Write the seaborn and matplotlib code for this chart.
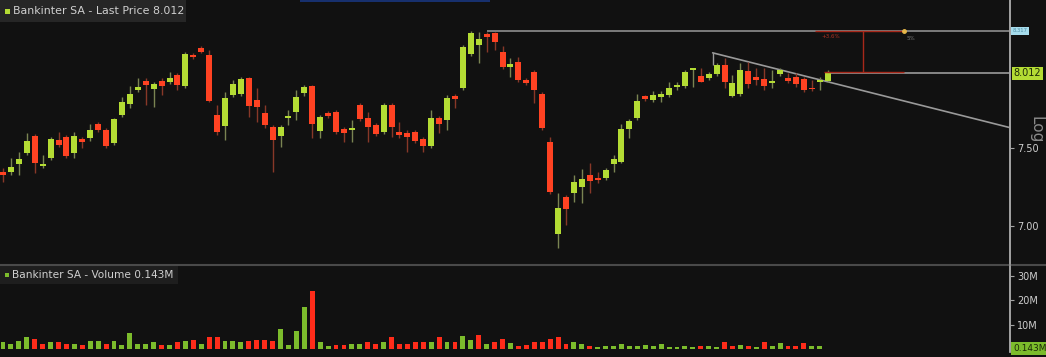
import numpy as np
import pandas as pd
import matplotlib
matplotlib.use("Agg")
import matplotlib.pyplot as plt
import matplotlib.transforms as mtransforms
from matplotlib.patches import Rectangle
from matplotlib.lines import Line2D
from matplotlib.ticker import FixedLocator, NullLocator
import seaborn as sns

# ---------------- data ----------------
opens = [7.343, 7.343, 7.395, 7.467, 7.580, 7.381, 7.434, 7.553, 7.573, 7.467,
         7.560, 7.567, 7.661, 7.620, 7.533, 7.722, 7.798, 7.895, 7.958, 7.902,
         7.958, 7.951, 8.000, 7.923, 8.143, 8.193, 8.143, 7.722, 7.647, 7.860,
         7.867, 7.979, 7.825, 7.736, 7.640, 7.580, 7.702, 7.742, 7.874, 7.923,
         7.614, 7.736, 7.742, 7.627, 7.620, 7.791, 7.702, 7.654, 7.607, 7.791,
         7.607, 7.600, 7.607, 7.560, 7.513, 7.702, 7.688, 7.853, 7.909, 8.150,
         8.215, 8.295, 8.302, 8.165, 8.057, 8.093, 7.965, 8.021, 7.867, 7.540,
         6.951, 7.182, 7.208, 7.246, 7.323, 7.304, 7.304, 7.395, 7.408, 7.627,
         7.702, 7.853, 7.825, 7.846, 7.860, 7.916, 7.923, 8.035, 7.993, 7.979,
         8.007, 8.071, 7.853, 7.867, 8.028, 7.986, 7.972, 7.944, 8.007, 7.979,
         7.986, 7.972, 7.902, 7.951, 7.958]
closes = [7.323, 7.375, 7.428, 7.546, 7.401, 7.395, 7.560, 7.520, 7.447, 7.580,
          7.540, 7.620, 7.620, 7.513, 7.695, 7.811, 7.867, 7.916, 7.930, 7.937,
          7.923, 7.979, 7.930, 8.150, 8.129, 8.165, 7.818, 7.607, 7.839, 7.937,
          7.972, 7.784, 7.777, 7.654, 7.553, 7.640, 7.715, 7.846, 7.916, 7.661,
          7.708, 7.715, 7.607, 7.600, 7.634, 7.695, 7.640, 7.594, 7.791, 7.640,
          7.587, 7.573, 7.546, 7.513, 7.702, 7.661, 7.839, 7.832, 8.201, 8.302,
          8.258, 8.273, 8.237, 8.057, 8.078, 7.965, 7.944, 7.895, 7.634, 7.214,
          7.113, 7.106, 7.278, 7.297, 7.284, 7.291, 7.356, 7.428, 7.627, 7.681,
          7.818, 7.832, 7.860, 7.867, 7.909, 7.923, 8.021, 8.042, 7.951, 8.007,
          8.071, 7.948, 7.944, 8.035, 7.937, 7.965, 7.923, 7.958, 8.035, 7.958,
          7.937, 7.895, 7.898, 7.965, 8.012]
highs = [7.369, 7.434, 7.474, 7.600, 7.594, 7.454, 7.573, 7.607, 7.587, 7.607,
         7.573, 7.661, 7.674, 7.634, 7.702, 7.846, 7.923, 7.979, 7.979, 7.951,
         7.979, 8.021, 8.014, 8.165, 8.158, 8.208, 8.179, 7.791, 7.881, 7.965,
         7.986, 7.986, 7.909, 7.791, 7.654, 7.654, 7.756, 7.895, 7.930, 7.930,
         7.722, 7.749, 7.756, 7.640, 7.688, 7.805, 7.742, 7.667, 7.805, 7.805,
         7.674, 7.620, 7.620, 7.573, 7.756, 7.715, 7.860, 7.867, 8.215, 8.317,
         8.310, 8.310, 8.310, 8.208, 8.121, 8.129, 7.979, 8.035, 7.881, 7.573,
         7.208, 7.195, 7.323, 7.362, 7.401, 7.343, 7.369, 7.454, 7.661, 7.695,
         7.867, 7.860, 7.888, 7.888, 7.951, 7.951, 8.035, 8.049, 8.049, 8.021,
         8.086, 8.121, 8.000, 8.086, 8.093, 8.049, 8.049, 8.035, 8.049, 8.014,
         8.014, 7.986, 7.965, 7.986, 8.035]
lows = [7.278, 7.323, 7.323, 7.454, 7.336, 7.369, 7.421, 7.507, 7.434, 7.434,
        7.500, 7.546, 7.607, 7.500, 7.520, 7.708, 7.770, 7.881, 7.791, 7.777,
        7.860, 7.937, 7.895, 7.909, 8.114, 8.158, 7.811, 7.587, 7.553, 7.846,
        7.853, 7.708, 7.674, 7.634, 7.343, 7.507, 7.654, 7.688, 7.853, 7.567,
        7.567, 7.702, 7.594, 7.540, 7.540, 7.681, 7.540, 7.580, 7.594, 7.573,
        7.567, 7.474, 7.533, 7.474, 7.500, 7.600, 7.620, 7.770, 7.895, 8.136,
        8.086, 8.165, 8.179, 8.042, 7.986, 7.951, 7.930, 7.805, 7.620, 7.201,
        6.866, 7.007, 7.151, 7.144, 7.208, 7.272, 7.291, 7.343, 7.401, 7.567,
        7.688, 7.818, 7.811, 7.811, 7.846, 7.895, 7.909, 7.916, 7.951, 7.965,
        7.993, 7.909, 7.846, 7.853, 7.909, 7.930, 7.895, 7.909, 7.993, 7.944,
        7.916, 7.881, 7.888, 7.895, 7.951]
volumes_m = [2.7, 2.0, 3.4, 4.8, 4.1, 2.0, 3.0, 2.7, 2.0, 2.0,
             1.6, 3.4, 3.4, 2.0, 3.4, 1.6, 6.5, 2.0, 2.0, 3.0,
             1.6, 1.6, 2.7, 3.4, 3.8, 2.0, 4.8, 4.8, 3.4, 3.4,
             2.7, 3.4, 3.8, 3.8, 3.4, 8.2, 1.6, 7.5, 17.0, 23.8,
             2.7, 1.4, 1.6, 1.5, 2.0, 2.0, 2.7, 2.0, 2.7, 4.8,
             2.0, 2.0, 2.7, 2.7, 2.7, 4.8, 3.0, 3.0, 5.2, 3.8,
             5.7, 2.0, 2.7, 4.1, 2.4, 1.4, 1.6, 2.7, 3.0, 4.1,
             4.8, 2.0, 3.0, 2.0, 1.4, 0.7, 1.4, 1.1, 2.0, 1.4,
             1.4, 1.6, 1.1, 1.9, 0.8, 0.8, 1.4, 0.8, 1.1, 1.4,
             0.7, 2.7, 1.1, 1.6, 1.4, 0.7, 3.0, 1.1, 2.4, 1.1,
             1.1, 2.4, 1.1, 1.1, 0.143]

price_ticks = [7.0, 7.5]
price_tick_labels = ["7.00", "7.50"]
vol_ticks = [10, 20, 30]
vol_tick_labels = ["10M", "20M", "30M"]
last_price = 8.012
last_volume_m = 0.143
title_price = "Bankinter SA - Last Price 8.012"
title_volume = "Bankinter SA - Volume 0.143M"
trend_x = [89.5, 127.0]
trend_y = [8.158, 7.636]
measure_label = "+3.6%"

# ---------------- style ----------------
BG = "#111111"
GREEN = "#b4dc34"
RED = "#ff4222"
VGREEN = "#7cbc2c"
VRED = "#ff2c1a"
AXIS = "#a4a4a4"
TXT = "#cfcfcf"

sns.set_theme(style="dark")
plt.rcParams["font.family"] = ["Liberation Sans Narrow", "DejaVu Sans"]

W, H = 1046, 357
fig = plt.figure(figsize=(W / 100, H / 100), dpi=100, facecolor=BG)

def fx(px):
    return px / W

def fy(py):
    return 1 - py / H

axp = fig.add_axes([0, fy(263), fx(1010), 263 / H])
axv = fig.add_axes([0, fy(352), fx(1010), 86 / H])

opens_a = np.array(opens)
closes_a = np.array(closes)
highs_a = np.array(highs)
lows_a = np.array(lows)
n = len(opens_a)
idx = np.arange(n)
up = closes_a >= opens_a
XMIN, XMAX = -0.38, 127.0

for ax in (axp, axv):
    ax.set_facecolor(BG)
    ax.set_xlim(XMIN, XMAX)
    ax.grid(False)
    for s in ("left", "top", "bottom"):
        ax.spines[s].set_visible(False)
    ax.spines["right"].set_color(AXIS)
    ax.spines["right"].set_linewidth(1.2)
    ax.set_xticks([])
    ax.set_xlabel("")
    ax.set_ylabel("")
    ax.yaxis.tick_right()
    ax.tick_params(axis="y", colors=AXIS, labelcolor=TXT, labelsize=7,
                   length=3, width=0.8, pad=2, direction="out", right=True, left=False)

# ---------------- candles ----------------
axp.set_yscale("log")
axp.set_ylim(6.775, 8.548)
wick_cols = np.where(up, "#7a8452", "#883828")
axp.vlines(idx, lows_a, highs_a, colors=wick_cols, linewidth=1.0, zorder=2)
body_lo = np.minimum(opens_a, closes_a)
body_h = np.maximum(np.abs(closes_a - opens_a), 0.012)
axp.bar(idx, body_h, bottom=body_lo, width=0.76,
        color=np.where(up, GREEN, RED), linewidth=0, zorder=3)
axp.yaxis.set_major_locator(FixedLocator(price_ticks))
axp.yaxis.set_minor_locator(NullLocator())
axp.set_yticklabels(price_tick_labels)

# reference lines / drawings
top_level = highs_a.max()
axp.hlines(top_level, 61, XMAX, colors="#8e8e8e", linewidth=1.2, zorder=1)
axp.hlines(last_price, n - 1, XMAX, colors="#9a9a9a", linewidth=1.2, zorder=1)
axp.plot(trend_x, trend_y, color="#9a9a9a", linewidth=1.2, zorder=1)
axp.vlines(trend_x[0], 8.07, trend_y[0], colors="#9a9a9a", linewidth=1.0, zorder=1)
mred = "#a8281a"
axp.hlines(top_level, 102.4, 113.6, colors=mred, linewidth=1.0, zorder=4)
axp.hlines(8.021, 103.6, 113.6, colors=mred, linewidth=1.0, zorder=4)
axp.vlines(108.5, 8.021, top_level, colors=mred, linewidth=1.0, zorder=4)
axp.plot([113.6], [top_level], "o", color="#e8b84a", markersize=2.5, zorder=5)
axp.text(103.2, 8.298, measure_label, color="#b03020", fontsize=4, va="top", zorder=5)
axp.text(114.0, 8.262, "5%", color="#777777", fontsize=4, va="center", zorder=5)

trans_p = mtransforms.blended_transform_factory(axp.transAxes, axp.transData)
axp.text(1.0035, last_price, f"{last_price:.3f}", transform=trans_p, ha="left",
         va="center", fontsize=7, color="#1c2a08", clip_on=False,
         bbox=dict(boxstyle="square,pad=0.18", fc="#b4dc34", ec="none"))
axp.text(1.0025, top_level, f"{top_level:.3f}", transform=trans_p, ha="left",
         va="center", fontsize=3.8, color="#4f8ea4", clip_on=False,
         bbox=dict(boxstyle="square,pad=0.25", fc="#a6dcec", ec="none"))

# ---------------- volume (seaborn) ----------------
prev_close = np.r_[closes_a[0], closes_a[:-1]]
vol_dir = np.where(closes_a >= prev_close, "up", "down")
df_vol = pd.DataFrame({"i": idx, "vol": volumes_m, "dir": vol_dir})
sns.barplot(data=df_vol, x="i", y="vol", hue="dir", palette={"up": VGREEN, "down": VRED},
            native_scale=True, dodge=False, width=0.62, legend=False, saturation=1,
            linewidth=0, ax=axv)
axv.set_xlim(XMIN, XMAX)
axv.set_ylim(-1.2, 33.9)
axv.set_xticks([])
axv.set_xlabel("")
axv.set_ylabel("")
axv.yaxis.set_major_locator(FixedLocator(vol_ticks))
axv.set_yticklabels(vol_tick_labels)
axv.tick_params(axis="y", colors=AXIS, labelcolor=TXT, labelsize=7, length=3,
                width=0.8, pad=2, right=True, left=False)
trans_v = mtransforms.blended_transform_factory(axv.transAxes, axv.transData)
axv.text(1.003, last_volume_m, f"{last_volume_m:.3f}M", transform=trans_v, ha="left",
         va="center", fontsize=6.5, color="#1c2a08", clip_on=False,
         bbox=dict(boxstyle="square,pad=0.2", fc="#7cbc2c", ec="none"))

# ---------------- frame decorations ----------------
fig.add_artist(Line2D([0, 1], [fy(265), fy(265)], color="#4a4a4a", linewidth=1.5))
fig.add_artist(Line2D([fx(1010), fx(1010)], [fy(0), fy(352)], color=AXIS, linewidth=1.2))
fig.add_artist(Rectangle((fx(300), fy(2)), fx(190), 2 / H, fc="#17306e", ec="none"))

# title boxes
fig.add_artist(Rectangle((0, fy(22)), fx(186), 22 / H, fc="#262626", ec="none"))
fig.add_artist(Rectangle((fx(5), fy(13.5)), fx(4.5), 4.5 / H, fc=GREEN, ec="none"))
fig.text(fx(13), fy(11.5), title_price, color=TXT, fontsize=7.9, va="center", ha="left")
fig.add_artist(Rectangle((0, fy(284)), fx(178), 18 / H, fc="#1e1e1e", ec="none"))
fig.add_artist(Rectangle((fx(5), fy(276.5)), fx(4), 4 / H, fc=VGREEN, ec="none"))
fig.text(fx(12), fy(274.5), title_volume, color=TXT, fontsize=7.6, va="center", ha="left")

fig.text(fx(1036), fy(130), "Log", color="#8a8a8a", fontsize=11, rotation=-90,
         ha="center", va="center")

fig.savefig("out.png", dpi=100, facecolor=BG)
